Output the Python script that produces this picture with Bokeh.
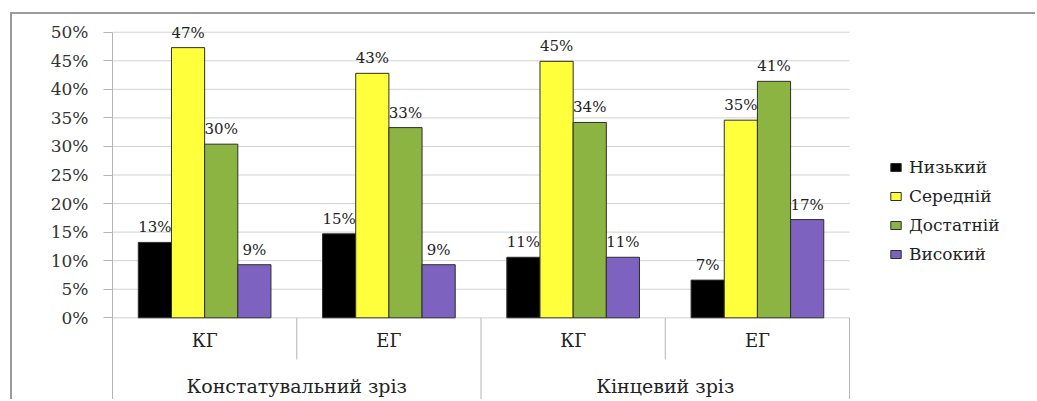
from bokeh.plotting import figure
from bokeh.models import (Range1d, FixedTicker, PrintfTickFormatter,
                          Legend, LegendItem, ColumnDataSource)
from bokeh.embed import file_html
from bokeh.resources import INLINE
from bokeh.core.properties import value

# ---- data ----
groups = ["Констатувальний зріз", "Кінцевий зріз"]
subgroups = ["КГ", "ЕГ"]
series = ["Низький", "Середній", "Достатній", "Високий"]
nyzkyi = [13.2, 14.7, 10.6, 6.6]
serednii = [47.3, 42.8, 44.9, 34.6]
dostatnii = [30.4, 33.3, 34.2, 41.4]
vysokyi = [9.3, 9.3, 10.6, 17.2]
y_ticks = [0, 5, 10, 15, 20, 25, 30, 35, 40, 45, 50]

colors = ["#000000", "#ffff3c", "#8cb443", "#7d62c0"]
FONT = "DejaVu Serif"
QFONT = "'DejaVu Serif', serif"
TXT = "#222222"
LINE = "#b4b4b4"

cats = [(g, s) for g in groups for s in subgroups]   # category slots, left to right
n = len(cats)
centers = [i + 0.5 for i in range(n)]

Y0, Y1 = -14.65, 52.4
X_END = 5.02
p = figure(width=1025, height=387, x_range=Range1d(0, X_END), y_range=Range1d(Y0, Y1),
           x_axis_location=None, output_backend="svg", toolbar_location=None,
           min_border_left=100, min_border_right=0, min_border_top=4,
           min_border_bottom=0, outline_line_color=None)
p.styles = {"margin-top": "12px", "margin-left": "10px",
            "border-top": "2px solid #9a9a9a", "border-left": "2px solid #9a9a9a"}

p.xgrid.visible = False
p.ygrid.visible = False
ax = p.yaxis[0]
ax.ticker = FixedTicker(ticks=y_ticks)
ax.formatter = PrintfTickFormatter(format="%d%%")
ax.bounds = (Y0, 50)
ax.axis_line_color = LINE
ax.major_tick_line_color = LINE
ax.major_tick_out = 9
ax.major_tick_in = 0
ax.minor_tick_line_color = None
ax.major_label_standoff = 15
ax.major_label_text_font = QFONT
ax.major_label_text_font_size = "17px"
ax.major_label_text_color = "#333333"

# horizontal gridlines over the category area only
p.segment(x0=0, x1=n, y0=y_ticks, y1=y_ticks, line_color="#d2d2d2", line_width=1,
          level="underlay")

offsets = [-0.27, -0.09, 0.09, 0.27]
bar_w = 0.18
all_vals = [nyzkyi, serednii, dostatnii, vysokyi]
items = []
label_sources = []
for name, vals, col, off in zip(series, all_vals, colors, offsets):
    src = ColumnDataSource(dict(x=[c + off for c in centers], y=vals,
                                label=[f"{round(v)}%" for v in vals]))
    r = p.vbar(x="x", top="y", bottom=0, width=bar_w, source=src,
               fill_color=col, line_color="#2e2e2e", line_width=1)
    items.append(LegendItem(label=name, renderers=[r]))
    label_sources.append(src)

for src in label_sources:
    p.text(x="x", y="y", text="label", source=src, text_align="center",
           text_baseline="alphabetic", y_offset=-15, text_font=value(FONT),
           text_font_size="15px", text_color=TXT)

# category table below the value axis
sep_x = [i for i in range(n + 1)]
sep_y1 = [Y0 if (i == n or cats[i][1] == subgroups[0]) else -7.3 for i in range(n + 1)]
p.segment(x0=sep_x, x1=sep_x, y0=0, y1=sep_y1, line_color=LINE, line_width=1)

p.text(x=centers, y=-3.97, text=[s for g, s in cats], text_align="center",
       text_baseline="middle", text_font=value(FONT), text_font_size="18px",
       text_color=TXT)
grp_x = [sum(c for c, (g, s) in zip(centers, cats) if g == gg) /
         sum(1 for g, s in cats if g == gg) for gg in groups]
p.text(x=grp_x, y=-11.85, text=groups, text_align="center",
       text_baseline="middle", text_font=value(FONT), text_font_size="19px",
       text_color=TXT)

legend = Legend(items=items, location=(777, 137), orientation="vertical",
                margin=0, padding=0, spacing=9, glyph_width=13, glyph_height=10,
                label_standoff=7, label_height=20, label_text_font=QFONT,
                label_text_font_size="17px", label_text_color=TXT,
                border_line_color=None, background_fill_alpha=0)
p.add_layout(legend)

open("out.html", "w").write(file_html(p, INLINE))
